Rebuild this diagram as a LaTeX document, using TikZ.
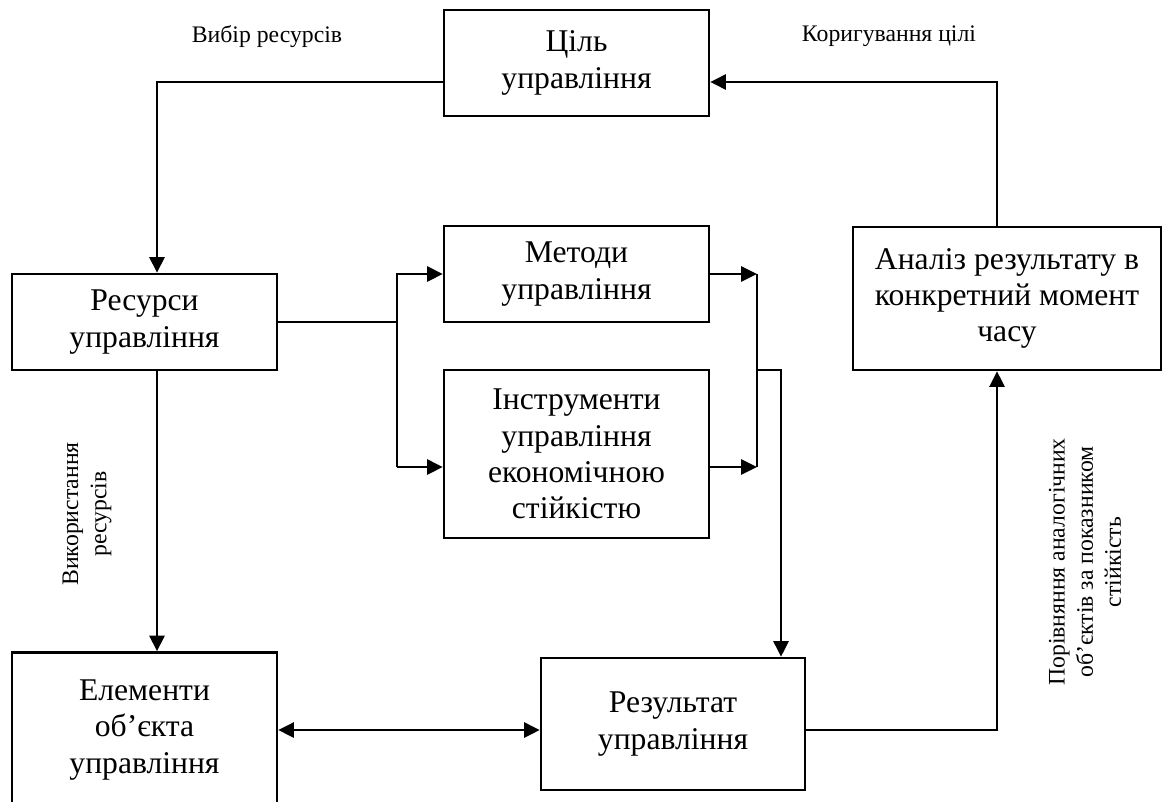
\documentclass[tikz,border=0pt]{standalone}
\usepackage{fontspec}
\setmainfont{Liberation Serif}
\usepackage{tikz}
\usetikzlibrary{arrows.meta,calc,positioning}
\tikzstyle{block}=[draw,rectangle,line width=1.3pt,align=center,inner sep=0pt,font={\fontsize{18}{20.7}\selectfont}]
\tikzstyle{lbl}=[align=center,inner sep=0pt,font={\fontsize{13.5}{16}\selectfont}]

\begin{document}
\begin{tikzpicture}[line width=1.6pt,>={Triangle[length=9pt,width=8.5pt]}]
\useasboundingbox (0,0) rectangle (23.24,-16.02);
\draw (11.53,-1.26) node [block,minimum width=5.3cm,minimum height=2.12cm] (goal) {Ціль\\управління};
\draw (2.89,-6.44) node [block,minimum width=5.3cm,minimum height=1.92cm] (res) {Ресурси\\управління};
\draw (11.53,-5.48) node [block,minimum width=5.3cm,minimum height=1.92cm] (meth) {Методи\\управління};
\draw (11.53,-9.08) node [block,minimum width=5.3cm,minimum height=3.36cm] (inst) {Інструменти\\управління\\економічною\\стійкістю};
\draw (20.14,-5.97) node [block,minimum width=6.16cm,minimum height=2.86cm] (anal) {Аналіз результату в\\конкретний момент\\часу};
\draw (2.89,-14.60) node [block,minimum width=5.3cm,minimum height=3.1cm] (elem) {Елементи\\об’єкта\\управління};
\draw (13.46,-14.48) node [block,minimum width=5.28cm,minimum height=2.64cm] (resu) {Результат\\управління};
\draw (5.34,-0.74) node [lbl] (lsel) {Вибір ресурсів};
\draw (17.78,-0.72) node [lbl] (lcor) {Коригування цілі};
\draw (1.74,-10.28) node [lbl,rotate=90] (luse) {Використання\\ресурсів};
\draw (21.70,-11.24) node [lbl,rotate=90] (lcmp) {Порівняння аналогічних\\об’єктів за показником\\стійкість};
\coordinate (l1) at (7.94,-5.48);
\coordinate (l2) at (7.94,-9.34);
\coordinate (r1) at (15.14,-5.48);
\coordinate (r2) at (15.14,-9.34);
\coordinate (r0) at (15.14,-7.40);
\draw[->] ([yshift=-0.38cm]goal.west) -| ([xshift=0.25cm]res.north);
\draw[->] ([xshift=-0.2cm]anal.north) |- ([yshift=-0.38cm]goal.east);
\draw (res.east) -- (res.east -| l1);
\draw[->] (l2) -- (l1) -- (meth.west);
\draw[->] (l2) -- (l2 -| inst.west);
\draw[->] (meth.east) -- (r1);
\draw[->] (r2 -| inst.east) -- (r2);
\draw (r1) -- (r2);
\draw[->] (r0) -| ([xshift=2.16cm]resu.north);
\draw[->] ([yshift=-0.12cm]resu.east) -| ([xshift=-0.2cm]anal.south);
\draw[<->] (elem.east) -- (elem.east -| resu.west);
\draw[->] ([xshift=0.25cm]res.south) -- ([xshift=0.25cm]elem.north);
\end{tikzpicture}
\end{document}
